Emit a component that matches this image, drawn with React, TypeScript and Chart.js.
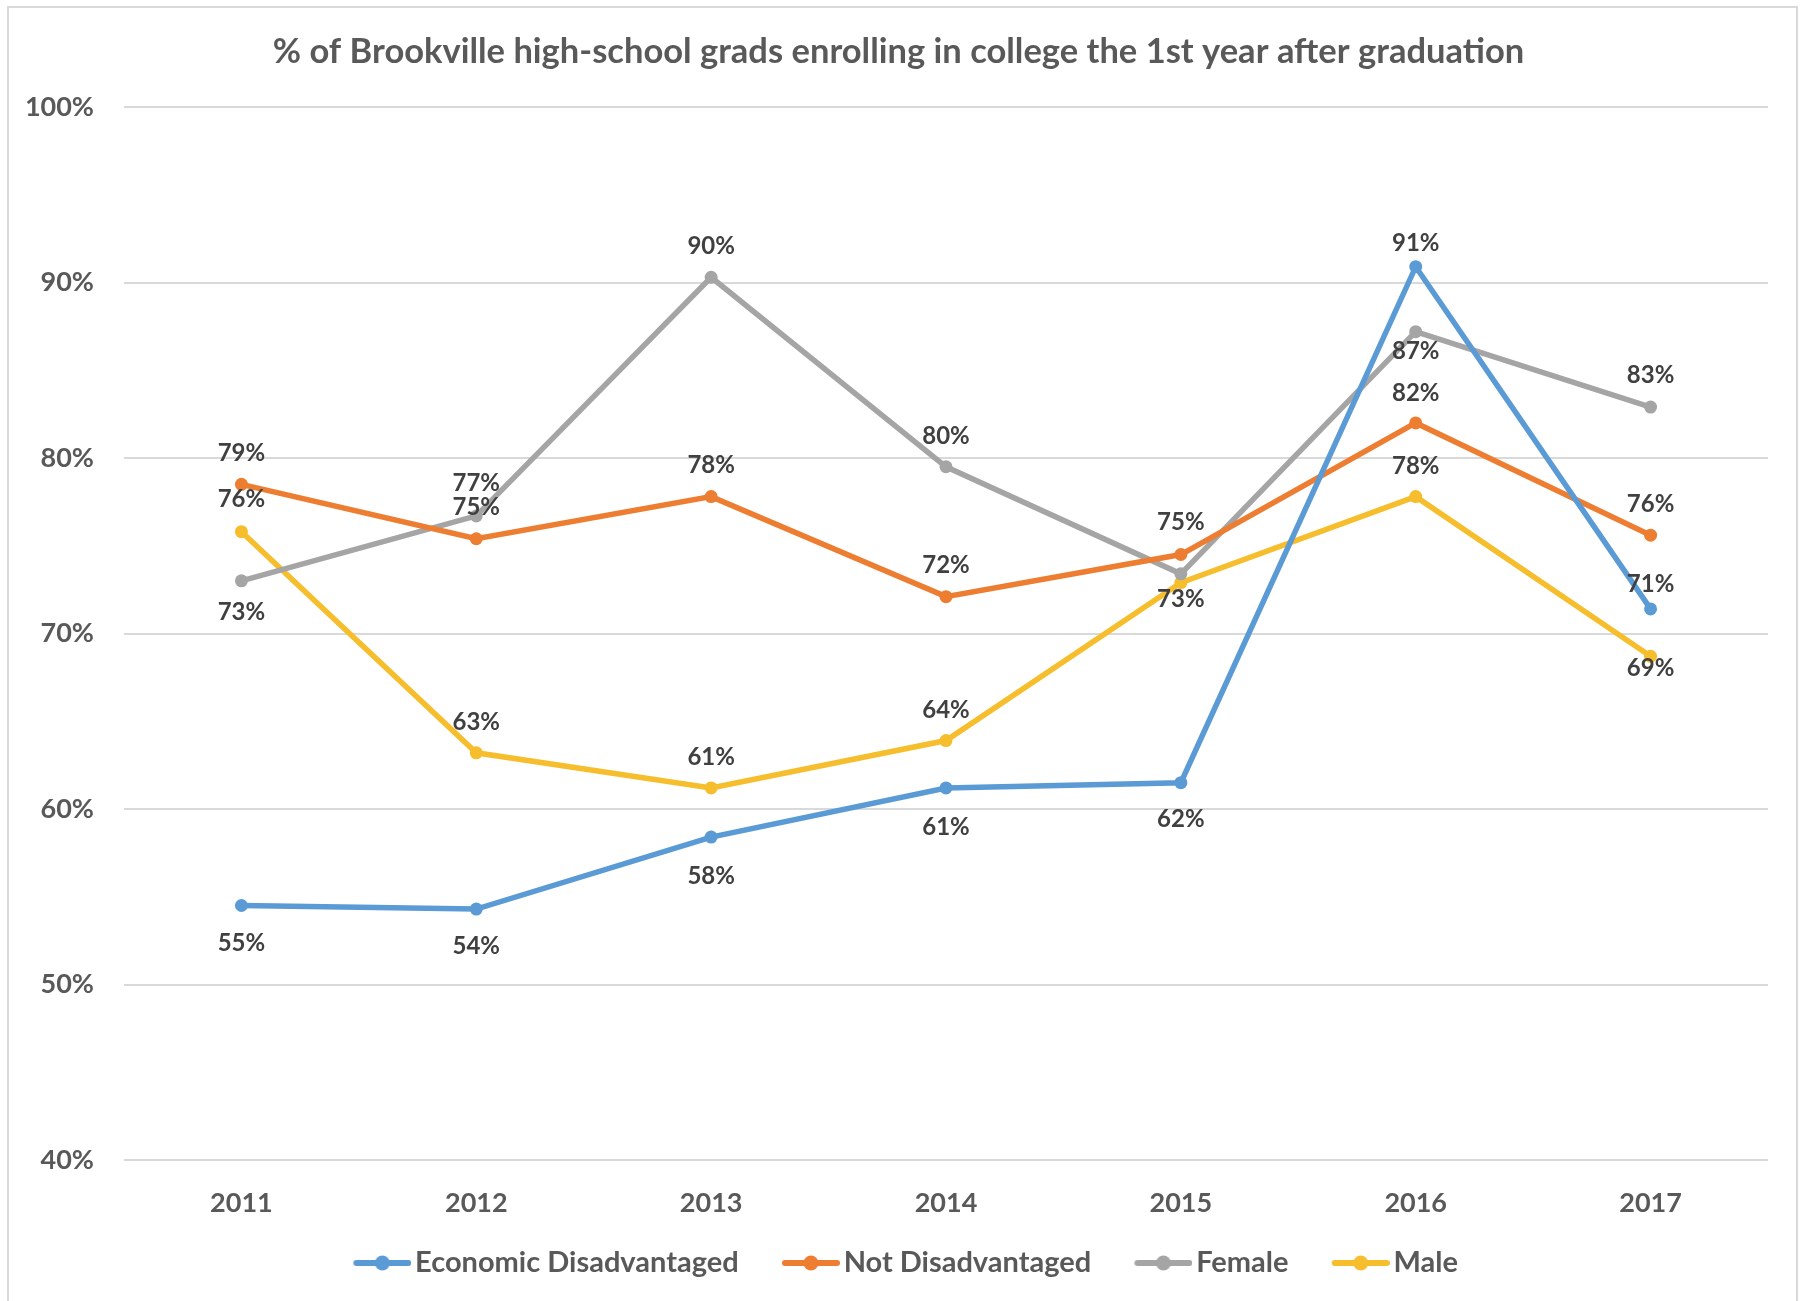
import React, { useEffect, useRef } from "react";
import { Chart, registerables } from "chart.js";

Chart.register(...registerables);

const years = ["2011", "2012", "2013", "2014", "2015", "2016", "2017"];
const econDisadvantaged = [54.5, 54.3, 58.4, 61.2, 61.5, 90.9, 71.4];
const notDisadvantaged = [78.5, 75.4, 77.8, 72.1, 74.5, 82.0, 75.6];
const female = [73.0, 76.7, 90.3, 79.5, 73.4, 87.2, 82.9];
const male = [75.8, 63.2, 61.2, 63.9, 72.9, 77.8, 68.7];
const yTicks = [40, 50, 60, 70, 80, 90, 100];
const titleText = "% of Brookville high-school grads enrolling in college the 1st year after graduation";

// label nudges (px, negative = above the point); null = no label
const labelNudges: (number | null)[][] = [
  [38, 37, 39, 39, 37, -23, -25],
  [-31, -31, -31, -31, -32, -30, -31],
  [31, -33, -31, -31, 25, 20, -32],
  [-32, -31, -31, -30, null, -30, 12],
];

const FONT = "Lato, 'Open Sans', sans-serif";
const colors = ["#5B9BD5", "#ED7D31", "#A5A5A5", "#F6BE2C"];
const names = ["Economic Disadvantaged", "Not Disadvantaged", "Female", "Male"];
const seriesValues = [econDisadvantaged, notDisadvantaged, female, male];

// legend swatch: a short line with a marker, drawn on the right part of a wider image
function makeIcon(color: string): HTMLCanvasElement {
  const c = document.createElement("canvas");
  c.width = 83;
  c.height = 16;
  const g = c.getContext("2d")!;
  const x0 = 25;
  g.strokeStyle = color;
  g.lineWidth = 6;
  g.lineCap = "round";
  g.beginPath();
  g.moveTo(x0 + 3, 8);
  g.lineTo(x0 + 55, 8);
  g.stroke();
  g.fillStyle = color;
  g.beginPath();
  g.arc(x0 + 29, 8, 7.5, 0, Math.PI * 2);
  g.fill();
  return c;
}

const labelPlugin = {
  id: "pointLabels",
  afterDatasetsDraw(chart: any) {
    const ctx = chart.ctx;
    ctx.save();
    ctx.font = `bold 24px ${FONT}`;
    ctx.fillStyle = "#404040";
    ctx.textAlign = "center";
    ctx.textBaseline = "middle";
    chart.data.datasets.forEach((ds: any, di: number) => {
      const meta = chart.getDatasetMeta(di);
      meta.data.forEach((pt: any, i: number) => {
        const nudge = labelNudges[di][i];
        if (nudge === null) return;
        const v = ds.data[i];
        ctx.fillText(`${Math.round(v)}%`, pt.x, pt.y + nudge);
      });
    });
    ctx.restore();
  },
};

export default function App() {
  const ref = useRef<HTMLCanvasElement>(null);
  useEffect(() => {
    const icons = colors.map(makeIcon);
    const chart = new Chart(ref.current!, {
      type: "line",
      data: {
        labels: years,
        datasets: seriesValues.map((vals, i) => ({
          label: names[i],
          data: vals,
          borderColor: colors[i],
          backgroundColor: colors[i],
          pointBackgroundColor: colors[i],
          pointBorderColor: colors[i],
          borderWidth: 5.5,
          pointRadius: 6.5,
          pointBorderWidth: 0,
          tension: 0,
          fill: false,
        })),
      },
      options: {
        responsive: false,
        animation: false,
        devicePixelRatio: 1,
        layout: { padding: { left: 0, right: 8, top: 0, bottom: 13.5 } },
        scales: {
          x: {
            offset: true,
            grid: { display: false, drawTicks: false },
            border: { display: false },
            ticks: { color: "#595959", font: { family: FONT, size: 27, weight: "bold", lineHeight: 1 }, padding: 29.5 },
            afterFit: (s: any) => { s.height = 59.5; },
          },
          y: {
            min: 40,
            max: 100,
            afterBuildTicks: (s: any) => { s.ticks = yTicks.map((v) => ({ value: v })); },
            grid: { color: "#D9D9D9", lineWidth: 2, drawTicks: false },
            border: { display: false },
            ticks: {
              color: "#595959",
              font: { family: FONT, size: 27, weight: "bold" },
              padding: 30,
              callback: (v: any) => `${v}%`,
            },
            afterFit: (s: any) => { s.width = 124; },
          },
          yRight: {
            position: "right",
            display: true,
            grid: { display: false, drawTicks: false },
            border: { display: false },
            ticks: { display: false },
            afterFit: (s: any) => { s.width = 29; },
          },
        },
        plugins: {
          title: {
            display: true,
            text: titleText,
            color: "#595959",
            font: { family: FONT, size: 34.5, weight: "bold", lineHeight: 1.2 },
            padding: { top: 31, bottom: 34.6 },
          },
          legend: {
            position: "bottom",
            labels: {
              usePointStyle: true,
              pointStyleWidth: 61.5,
              padding: 29,
              color: "#595959",
              font: { family: FONT, size: 29, weight: "bold" },
              generateLabels: (ch: any) => {
                const items = Chart.defaults.plugins.legend.labels.generateLabels(ch);
                return items.map((it: any, i: number) => ({ ...it, pointStyle: icons[i] }));
              },
            },
          },
          tooltip: { enabled: false },
        },
      },
      plugins: [labelPlugin],
    } as any);
    return () => chart.destroy();
  }, []);

  return (
    <div style={{ position: "absolute", left: 0, top: 0, width: 1805, height: 1301, background: "#fff", overflow: "hidden" }}>
      <canvas ref={ref} width={1805} height={1301} style={{ position: "absolute", left: 0, top: 0, width: 1805, height: 1301 }} />
      <div
        style={{
          position: "absolute",
          left: 7,
          top: 6,
          width: 1791,
          height: 1300,
          border: "2px solid #D9D9D9",
          borderBottom: "none",
          boxSizing: "border-box",
          pointerEvents: "none",
        }}
      />
    </div>
  );
}
